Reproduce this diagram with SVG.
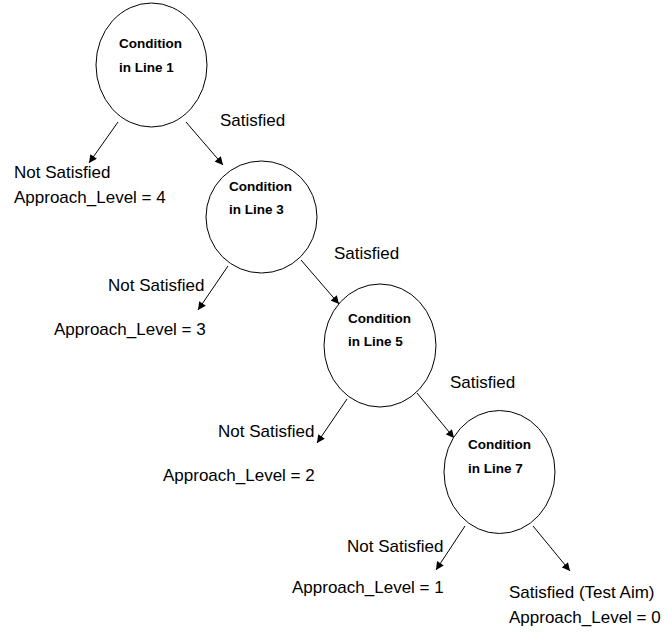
<svg xmlns="http://www.w3.org/2000/svg" width="668" height="634" viewBox="0 0 668 634">
<style>
.node ellipse{fill:#fff;stroke:#000;stroke-width:1}
.nt{font-family:"Liberation Sans",Arial,sans-serif;font-weight:bold;font-size:13.5px;fill:#000}
.lbl{font-family:"Liberation Sans",Arial,sans-serif;font-size:17px;fill:#000}
.edge{stroke:#000;stroke-width:1;fill:none;marker-end:url(#ah)}
</style>
<defs>
<marker id="ah" viewBox="0 0 10 10" refX="10" refY="5" markerWidth="9" markerHeight="8" markerUnits="userSpaceOnUse" orient="auto">
<path d="M0,0 L10,5 L0,10 z" fill="#000"/>
</marker>
</defs>
<rect width="668" height="634" fill="#fff"/>
<g id="connectors">
<line class="edge" x1="118" y1="122" x2="89" y2="163"/>
<line class="edge" x1="186" y1="122" x2="223" y2="165"/>
<line class="edge" x1="228" y1="266" x2="198" y2="310"/>
<line class="edge" x1="301" y1="260" x2="339" y2="304"/>
<line class="edge" x1="347" y1="399" x2="317" y2="443"/>
<line class="edge" x1="417" y1="393" x2="454" y2="438"/>
<line class="edge" x1="465" y1="526" x2="436" y2="570"/>
<line class="edge" x1="533" y1="526" x2="570" y2="571"/>
</g>
<g id="node1" class="node">
<ellipse cx="151.5" cy="65" rx="55.5" ry="62"/>
<text class="nt" x="119" y="48">Condition</text>
<text class="nt" x="119" y="72">in Line 1</text>
</g>
<g id="node2" class="node">
<ellipse cx="261.5" cy="217" rx="55.5" ry="56"/>
<text class="nt" x="229" y="191">Condition</text>
<text class="nt" x="229" y="214">in Line 3</text>
</g>
<g id="node3" class="node">
<ellipse cx="380" cy="345.5" rx="56" ry="61.5"/>
<text class="nt" x="348" y="323">Condition</text>
<text class="nt" x="348" y="346">in Line 5</text>
</g>
<g id="node4" class="node">
<ellipse cx="499.5" cy="472" rx="55.5" ry="61.5"/>
<text class="nt" x="468" y="449">Condition</text>
<text class="nt" x="468" y="473">in Line 7</text>
</g>
<g id="labels">
<text class="lbl" x="220" y="126">Satisfied</text>
<text class="lbl" x="14" y="178">Not Satisfied</text>
<text class="lbl" x="14" y="203">Approach_Level = 4</text>
<text class="lbl" x="334" y="259">Satisfied</text>
<text class="lbl" x="108" y="291">Not Satisfied</text>
<text class="lbl" x="54" y="335">Approach_Level = 3</text>
<text class="lbl" x="450" y="388">Satisfied</text>
<text class="lbl" x="218" y="437">Not Satisfied</text>
<text class="lbl" x="163" y="481">Approach_Level = 2</text>
<text class="lbl" x="347" y="552">Not Satisfied</text>
<text class="lbl" x="292" y="593">Approach_Level = 1</text>
<text class="lbl" x="509" y="598">Satisfied (Test Aim)</text>
<text class="lbl" x="509" y="623">Approach_Level = 0</text>
</g>
</svg>
